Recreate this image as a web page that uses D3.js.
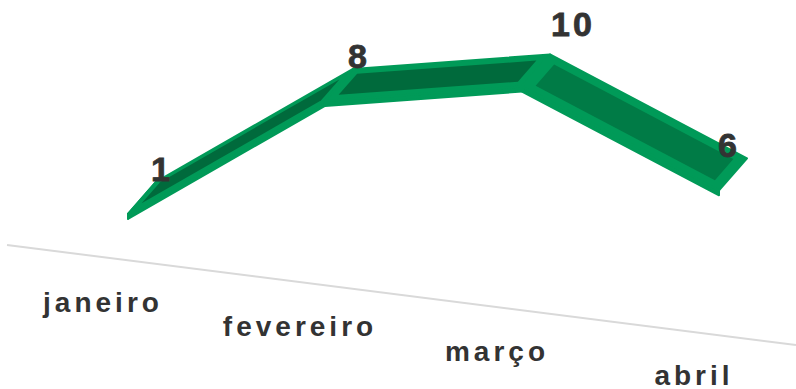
<!DOCTYPE html>
<html><head><meta charset="utf-8">
<script src="https://cdn.jsdelivr.net/npm/d3@7"></script>
<style>html,body{margin:0;padding:0;background:#fff;}svg{display:block;}</style>
</head><body>
<script>
const categories = ["janeiro", "fevereiro", "março", "abril"];
const values = [1, 8, 10, 6];
const dataLabels = ["1", "8", "10", "6"];

const W = 796, H = 389;
const svg = d3.select("body").append("svg").attr("width", W).attr("height", H);

// projection (oblique 3D)
const x = d3.scalePoint().domain(categories).range([128, 719]);
const floorY = d3.scaleLinear().domain([128, 719]).range([233.5, 308.5]);
const h = d3.scaleLinear().domain([0, 10]).range([0, 197]);
const D = [28, -32];      // depth vector
const T = 5;              // ribbon thickness

const front = categories.map((c, i) => [x(c), floorY(x(c)) - h(values[i])]);
const P = (i, t, d) => {
  const a = front[i], b = front[i + 1];
  return [a[0] + (b[0] - a[0]) * t + D[0] * d, a[1] + (b[1] - a[1]) * t + D[1] * d];
};

const light = "#009a58", darkUp = "#006a3c", darkDown = "#007b46";

// floor / axis line
const fl = d3.scaleLinear().domain([127, 718]).range([260.2, 335.2]);
svg.append("line").attr("x1", 7).attr("y1", fl(7)).attr("x2", 796).attr("y2", fl(796))
  .attr("stroke", "#d9d9d9").attr("stroke-width", 2);

const g = svg.append("g");
const poly = pts => "M" + pts.map(p => p.join(",")).join("L") + "Z";

// end cap at first point
const f0 = front[0];
g.append("path").attr("d", poly([f0, [f0[0] + D[0], f0[1] + D[1]], [f0[0] + D[0], f0[1] + D[1] + T], [f0[0], f0[1] + T]]))
  .attr("fill", light).attr("stroke", light).attr("stroke-width", 2).attr("stroke-linejoin", "round");

// front faces (thickness)
for (let i = 0; i < front.length - 1; i++) {
  const a = front[i], b = front[i + 1];
  g.append("path").attr("d", poly([a, b, [b[0], b[1] + T], [a[0], a[1] + T]]))
    .attr("fill", light).attr("stroke", light).attr("stroke-width", 2).attr("stroke-linejoin", "round");
}
// top faces with bevel
for (let i = 0; i < front.length - 1; i++) {
  g.append("path").attr("d", poly([P(i, 0, 0), P(i, 1, 0), P(i, 1, 1), P(i, 0, 1)]))
    .attr("fill", light).attr("stroke", light).attr("stroke-width", 2).attr("stroke-linejoin", "round");
}
for (let i = 0; i < front.length - 1; i++) {
  const e = 0.045, d0 = 0.17, d1 = 0.83;
  const col = values[i + 1] >= values[i] ? darkUp : darkDown;
  g.append("path").attr("d", poly([P(i, e, d0), P(i, 1 - e, d0), P(i, 1 - e, d1), P(i, e, d1)]))
    .attr("fill", col);
}

// data labels: above the back edge; peaks lifted clear of the ribbon, last one kept inside
const n = values.length;
const isPeak = i => i > 0 && i < n - 1 && values[i] > values[i - 1] && values[i] > values[i + 1];
svg.append("g").selectAll("text").data(dataLabels).join("text")
  .attr("x", (d, i) => {
    const bx = front[i][0] + D[0];
    if (i === n - 1) return bx - 7;
    return bx + (isPeak(i) ? 23 : 6);
  })
  .attr("y", (d, i) => front[i][1] + D[1] - (isPeak(i) ? 19 : 1))
  .attr("text-anchor", (d, i) => i === n - 1 ? "end" : "middle")
  .attr("font-family", "Liberation Sans, Arial, sans-serif")
  .attr("font-weight", "bold").attr("font-size", 34).attr("letter-spacing", 3)
  .attr("fill", "#333333").attr("stroke", "#333333").attr("stroke-width", 0.8)
  .text(d => d);

// category labels (follow the sloping floor)
const labelY = d3.scaleLinear().domain([128, 719]).range([312, 385]);
svg.append("g").selectAll("text").data(categories).join("text")
  .attr("x", d => x(d) - 25)
  .attr("y", d => labelY(x(d)))
  .attr("text-anchor", "middle")
  .attr("font-family", "Liberation Sans, Arial, sans-serif")
  .attr("font-weight", "bold").attr("font-size", 28).attr("letter-spacing", 4)
  .attr("fill", "#333333").text(d => d);
</script>
</body></html>
